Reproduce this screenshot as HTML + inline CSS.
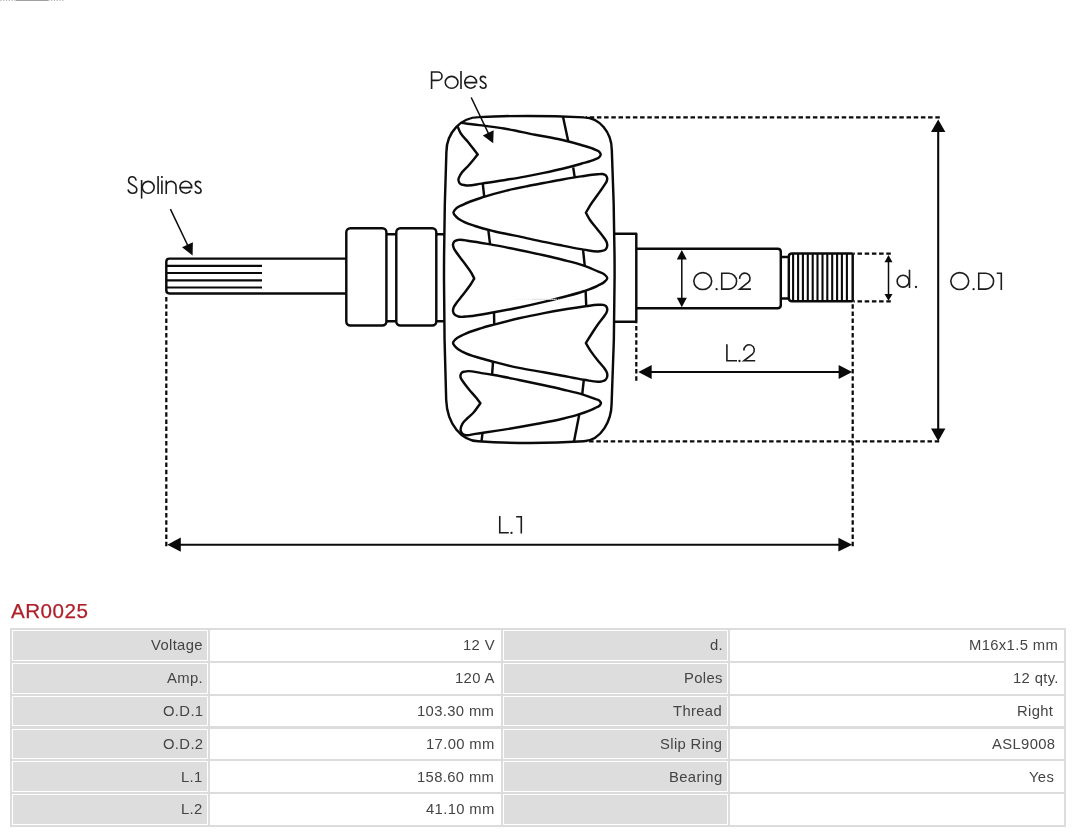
<!DOCTYPE html>
<html><head><meta charset="utf-8"><title>AR0025</title>
<style>
html,body{margin:0;padding:0;background:#fff;}
body{width:1080px;height:832px;position:relative;overflow:hidden;font-family:"Liberation Sans",sans-serif;}
svg{position:absolute;left:0;top:0;}
.title{position:absolute;left:11.1px;top:598.5px;font-size:20.6px;line-height:24px;color:#b01f29;letter-spacing:0.5px;-webkit-text-stroke:0.25px #b01f29;white-space:nowrap;}
.t{display:inline-block;will-change:transform;}
.c{position:absolute;background:#fff;box-sizing:border-box;padding:1px;}
.f{width:100%;height:100%;box-sizing:border-box;text-align:right;font-size:14.8px;line-height:28.833px;color:#444;letter-spacing:0.36px;white-space:nowrap;padding-top:0.2px;}
</style></head>
<body>
<svg width="1080" height="590" viewBox="0 0 1080 590">
<g fill="none" stroke="#0a0a0a" stroke-width="2.45" stroke-linejoin="round" stroke-linecap="butt">
<path d="M479,117.1 Q530,114.6 584,117.4 C599.3,117.6 611.6,132.1 611.8,150 Q617.5,279 611.6,404 C611.4,420 602,440 584,441.3 Q530,444.7 478,441.3 C462,440.5 447.2,425 446.2,400 Q441.7,276 446.4,152 A32.6,34.9 0 0 1 479,117.1 Z"/>
<path d="M460.60,122.90 C467.73,123.73 474.88,124.48 482.00,125.40 C489.34,126.34 496.70,127.29 504.00,128.50 C514.39,130.22 524.66,132.67 535.00,134.70 C544.16,136.50 553.42,137.86 562.50,140.00 C568.79,141.49 575.07,143.11 581.25,145.00 C585.87,146.41 590.67,147.49 595.00,149.60 C596.50,150.33 598.38,150.76 599.40,152.00 C599.97,152.70 600.70,153.67 600.70,154.50 C600.70,155.33 599.97,156.30 599.40,157.00 C598.38,158.24 596.50,158.68 595.00,159.40 C590.69,161.48 585.86,162.39 581.25,163.75 C575.05,165.58 568.78,167.22 562.50,168.75 C556.28,170.27 550.02,171.59 543.75,172.90 C537.51,174.20 531.27,175.46 525.00,176.60 C518.85,177.72 512.67,178.70 506.50,179.70 C498.18,181.05 489.87,182.59 481.50,183.60 C476.02,184.26 470.34,186.30 465.00,185.20 C463.42,184.88 461.42,184.80 460.30,183.80 C459.33,182.93 458.53,181.29 458.40,180.00 C458.23,178.38 459.47,176.57 460.25,175.00 C462.18,171.08 466.13,168.37 469.00,165.00 C471.97,161.51 474.83,157.93 477.75,154.40 C474.50,150.27 471.33,146.07 468.00,142.00 C465.57,139.03 462.50,136.49 460.60,133.20 C459.41,131.14 458.67,128.80 457.70,126.60"/>
<path d="M585.90,212.75 C587.27,215.17 588.48,217.68 590.00,220.00 C592.19,223.34 595.03,226.24 597.50,229.40 C599.60,232.08 601.86,234.67 603.75,237.50 C604.83,239.12 606.30,240.67 606.80,242.50 C607.14,243.76 607.39,245.25 607.10,246.50 C606.84,247.60 606.23,248.87 605.40,249.60 C604.55,250.35 603.15,250.55 602.00,250.90 C596.24,252.64 589.79,250.35 583.75,249.60 C576.61,248.71 569.58,246.97 562.50,245.60 C556.25,244.39 549.99,243.20 543.75,241.90 C535.48,240.18 527.26,238.18 519.00,236.40 C510.68,234.61 502.26,233.22 494.00,231.20 C487.63,229.64 481.21,228.12 475.00,226.00 C470.86,224.59 466.55,223.38 462.75,221.25 C460.50,219.99 458.02,218.78 456.30,216.90 C455.14,215.63 453.37,213.96 453.40,212.50 C453.43,211.09 455.12,209.46 456.30,208.30 C458.00,206.63 460.57,205.89 462.75,204.80 C469.50,201.43 476.82,199.24 484.00,196.90 C491.40,194.49 498.94,192.46 506.50,190.60 C513.61,188.85 520.81,187.44 528.00,186.00 C533.24,184.95 538.50,183.99 543.75,183.00 C550.00,181.82 556.24,180.60 562.50,179.50 C568.74,178.40 574.98,177.31 581.25,176.40 C586.65,175.61 592.06,174.71 597.50,174.30 C599.20,174.17 600.97,173.66 602.60,174.00 C603.70,174.23 605.03,174.56 605.80,175.30 C606.56,176.03 607.09,177.33 607.20,178.40 C607.30,179.40 606.97,180.53 606.60,181.50 C606.23,182.46 605.55,183.31 605.00,184.20 C602.71,187.94 600.02,191.41 597.50,195.00 C595.02,198.54 592.29,201.93 590.00,205.60 C588.55,207.93 587.27,210.37 585.90,212.75 Z"/>
<path d="M474.25,278.50 C472.92,280.67 471.66,282.88 470.25,285.00 C467.95,288.47 465.29,291.69 462.75,295.00 C460.50,297.94 457.91,300.65 455.90,303.75 C455.09,305.00 454.08,306.21 453.60,307.60 C453.21,308.73 452.85,310.05 453.00,311.20 C453.16,312.42 453.84,313.82 454.70,314.70 C455.61,315.63 457.13,316.08 458.40,316.50 C461.68,317.59 465.48,316.43 469.00,316.20 C477.40,315.64 485.69,313.70 494.00,312.25 C502.36,310.80 510.69,309.22 519.00,307.50 C527.36,305.77 535.70,303.89 544.00,301.90 C550.18,300.42 556.36,298.88 562.50,297.25 C569.61,295.36 576.81,293.68 583.75,291.25 C588.40,289.62 593.10,288.00 597.50,285.80 C599.82,284.64 602.45,283.75 604.30,282.00 C605.47,280.89 607.33,279.39 607.30,278.10 C607.27,276.85 605.47,275.41 604.30,274.40 C602.46,272.81 599.78,272.27 597.50,271.25 C592.97,269.23 588.41,267.25 583.75,265.60 C576.84,263.15 569.62,261.56 562.50,259.75 C556.28,258.16 550.01,256.72 543.75,255.30 C535.52,253.43 527.26,251.70 519.00,250.00 C509.44,248.04 499.87,246.08 490.25,244.40 C483.18,243.17 476.12,241.87 469.00,241.00 C465.48,240.57 461.80,239.14 458.40,239.90 C457.15,240.18 455.61,240.39 454.70,241.20 C453.86,241.95 453.15,243.27 453.00,244.40 C452.86,245.42 453.27,246.58 453.60,247.60 C454.17,249.38 455.48,250.90 456.50,252.50 C458.74,256.01 461.55,259.13 464.00,262.50 C466.55,266.00 469.37,269.35 471.50,273.10 C472.50,274.85 473.33,276.70 474.25,278.50 Z"/>
<path d="M585.90,343.10 C587.68,346.03 589.33,349.06 591.25,351.90 C593.90,355.82 597.04,359.40 600.00,363.10 C601.72,365.25 603.80,367.15 605.20,369.50 C605.92,370.71 606.81,371.95 607.10,373.30 C607.36,374.47 607.43,375.86 607.10,377.00 C606.79,378.08 606.14,379.29 605.30,380.00 C604.43,380.74 603.05,380.96 601.90,381.30 C596.16,383.02 589.76,380.50 583.75,379.70 C576.61,378.75 569.59,377.02 562.50,375.70 C556.25,374.54 550.00,373.38 543.75,372.25 C535.51,370.76 527.20,369.60 519.00,367.90 C510.61,366.16 502.29,364.07 494.00,361.90 C489.82,360.81 485.63,359.75 481.50,358.50 C475.16,356.58 468.48,355.15 462.75,351.90 C460.41,350.57 457.82,349.34 456.00,347.40 C454.82,346.15 452.98,344.53 453.00,343.10 C453.02,341.69 454.80,340.09 456.00,338.90 C457.81,337.11 460.45,336.19 462.75,335.00 C468.65,331.96 475.15,330.09 481.50,328.10 C485.62,326.80 489.82,325.73 494.00,324.60 C502.29,322.36 510.63,320.22 519.00,318.30 C527.29,316.39 535.64,314.71 544.00,313.10 C550.15,311.92 556.32,310.79 562.50,309.75 C569.57,308.56 576.65,307.43 583.75,306.50 C588.66,305.86 593.56,304.86 598.50,304.80 C600.06,304.78 601.73,304.48 603.20,304.90 C604.25,305.20 605.52,305.62 606.20,306.40 C606.85,307.14 607.24,308.39 607.30,309.40 C607.37,310.52 606.89,311.75 606.40,312.80 C606.04,313.58 605.48,314.27 605.00,315.00 C602.72,318.48 599.89,321.59 597.50,325.00 C595.78,327.46 594.13,329.98 592.50,332.50 C590.24,335.99 588.10,339.57 585.90,343.10 Z"/>
<path d="M480.40,403.20 C479.10,401.50 477.83,399.77 476.50,398.10 C474.11,395.11 471.41,392.37 469.00,389.40 C466.84,386.74 464.66,384.09 462.75,381.25 C462.08,380.25 461.16,379.32 460.80,378.20 C460.51,377.30 460.33,376.22 460.50,375.30 C460.67,374.38 461.14,373.31 461.80,372.70 C462.49,372.06 463.66,371.90 464.60,371.60 C469.92,369.92 475.89,372.40 481.50,373.10 C485.68,373.62 489.84,374.30 494.00,375.00 C502.38,376.41 510.68,378.29 519.00,380.00 C527.34,381.72 535.68,383.46 544.00,385.30 C550.17,386.66 556.35,388.03 562.50,389.50 C569.61,391.20 576.79,392.68 583.75,394.90 C587.54,396.11 591.30,397.44 595.00,398.90 C596.54,399.51 598.50,399.66 599.60,400.80 C600.19,401.42 600.97,402.33 601.00,403.10 C601.03,403.92 600.20,404.90 599.60,405.60 C598.51,406.88 596.56,407.31 595.00,408.10 C589.82,410.72 584.27,412.60 578.75,414.40 C573.43,416.13 567.95,417.44 562.50,418.75 C554.24,420.74 545.85,422.22 537.50,423.80 C526.37,425.91 515.19,427.81 504.00,429.60 C498.14,430.54 492.27,431.44 486.40,432.30 C482.20,432.92 478.00,433.48 473.80,434.10 C471.37,434.46 468.89,435.53 466.50,435.20 C465.39,435.05 464.11,434.90 463.20,434.30 C462.39,433.77 461.63,432.88 461.20,432.00 C460.75,431.09 460.60,429.92 460.60,428.90 C460.60,427.16 461.54,425.35 462.40,423.80 C463.60,421.63 465.74,420.01 467.50,418.20 C469.52,416.12 471.87,414.35 473.80,412.20 C476.28,409.44 478.20,406.20 480.40,403.20 Z"/>
<path d="M562.9,116.2 L568.3,141.5"/>
<path d="M573.2,167.4 L574.7,177.4"/>
<path d="M482.75,183.4 L484.25,197"/>
<path d="M488.4,230.8 L490.1,244.4"/>
<path d="M583.1,250.2 L584.75,265.6"/>
<path d="M585.6,290.8 L586.25,306"/>
<path d="M494,312.3 L494.25,324.7"/>
<path d="M493,362.1 L492.1,374.7"/>
<path d="M583.75,380.3 L582.25,394.2"/>
<path d="M579.2,414.8 L574,441.6"/>
<path d="M482.5,433.3 L481.5,441.2"/>
<path d="M614.5,233.8 H636.3 V321.8 H614.3"/>
<path d="M636.3,248.8 H777.6 Q780.8,248.8 780.8,252 V305.1 Q780.8,308.3 777.6,308.3 H636.3"/>
<path d="M780.8,257 H788.8 M780.8,298.5 H788.8"/>
<path d="M792,253.5 H851.7 Q852.7,253.5 852.7,254.5 V300.3 Q852.7,301.3 851.7,301.3 H792 Q788.8,301.3 788.8,298.1 V256.7 Q788.8,253.5 792,253.5 Z"/>
<path d="M346.2,258.6 H169.4 Q166.3,258.6 166.3,261.7 V290.3 Q166.3,293.4 169.4,293.4 H346.2"/>
<rect x="346.3" y="228.3" width="40.1" height="97.2" rx="4" ry="4"/>
<rect x="396.3" y="228.3" width="40" height="97.2" rx="4" ry="4"/>
<path d="M386.4,234.3 H396.3 M386.4,321.2 H396.3 M436.3,234.3 H444.6 M436.3,321.2 H444.3"/>
</g>
<g fill="none" stroke="#0a0a0a" stroke-width="2.2">
<path d="M166.3,265.8 H262"/>
<path d="M166.3,273.0 H262"/>
<path d="M166.3,280.3 H262"/>
<path d="M166.3,287.5 H262"/>
</g>
<g fill="none" stroke="#0a0a0a" stroke-width="2.1">
<path d="M793.1,254 V300.8"/>
<path d="M798.1,254 V300.8"/>
<path d="M802.9,254 V300.8"/>
<path d="M807.8,254 V300.8"/>
<path d="M812.7,254 V300.8"/>
<path d="M817.5,254 V300.8"/>
<path d="M822.5,254 V300.8"/>
<path d="M827.3,254 V300.8"/>
<path d="M832.2,254 V300.8"/>
<path d="M837.1,254 V300.8"/>
<path d="M841.9,254 V300.8"/>
<path d="M846.9,254 V300.8"/>
</g>
<g fill="none" stroke="#0a0a0a" stroke-width="2.25" stroke-dasharray="4.5 2.7">
<path d="M939.8,117.4 H586"/>
<path d="M939.2,441.3 H586"/>
<path d="M166.3,546.3 V294.5"/>
<path d="M852.7,546.3 V302"/>
<path d="M636.3,380.8 V322.5"/>
<path d="M890.8,253.5 H853.5 M890.8,301.3 H853.5"/>
</g>
<g fill="#0a0a0a" stroke="#0a0a0a" stroke-width="2.1">
<path d="M938.2,128 V433"/>
<path d="M176,544.7 H843"/>
<path d="M646,372 H843"/>
</g>
<g fill="#0a0a0a" stroke="none">
<polygon points="938.20,119.50 945.40,132.00 931.00,132.00"/>
<polygon points="938.20,441.30 931.00,428.50 945.40,428.50"/>
<polygon points="167.30,544.70 180.80,537.60 180.80,551.80"/>
<polygon points="852.20,544.70 838.40,551.60 838.40,537.80"/>
<polygon points="638.30,372.00 651.70,365.00 651.70,379.00"/>
<polygon points="852.20,372.00 838.60,379.00 838.60,365.00"/>
<polygon points="681.80,250.00 686.80,259.50 676.80,259.50"/>
<polygon points="681.80,307.20 676.80,297.70 686.80,297.70"/>
<polygon points="888.50,255.00 892.50,262.30 884.50,262.30"/>
<polygon points="888.50,300.70 884.50,293.90 892.50,293.90"/>
<polygon points="192.60,255.60 182.03,247.34 192.87,242.19"/>
<polygon points="493.20,143.20 482.82,135.42 493.64,130.24"/>
</g>
<g fill="none" stroke="#0a0a0a" stroke-width="1.5">
<path d="M681.8,256 V301"/>
<path d="M888.5,260 V296"/>
<path d="M170.4,209.1 L188.5,247"/>
<path d="M471.2,97.5 L489,134.6"/>
</g>
<g fill="none" stroke="#1c1c1c" stroke-width="1.6" stroke-linejoin="miter" stroke-linecap="butt">
<ellipse cx="959.75" cy="281.09999999999997" rx="8.95" ry="8.45"/>
<circle cx="973.6" cy="289.2" r="1.15" fill="#1c1c1c" stroke="none"/>
<path d="M978.75,273.29999999999995 V289.09999999999997 H985.7 A7.9,7.9 0 0 0 985.7,273.29999999999995 Z"/>
<path d="M996.7,273.3 H1001.3 V289.9"/>
<ellipse cx="702.75" cy="281.09999999999997" rx="8.95" ry="8.45"/>
<circle cx="716.6" cy="289.2" r="1.15" fill="#1c1c1c" stroke="none"/>
<path d="M721.75,273.29999999999995 V289.09999999999997 H728.7 A7.9,7.9 0 0 0 728.7,273.29999999999995 Z"/>
<path d="M739.65,278.90 A5.2,5.3 0 1 1 748.19,282.48 L739.65,289.15 H750.95"/>
<path d="M726.9,344.3 V360.8 H737"/>
<circle cx="739.5" cy="361" r="1.15" fill="#1c1c1c" stroke="none"/>
<path d="M743.90,350.50 A5.2,5.3 0 1 1 752.44,354.08 L743.90,360.75 H755.20"/>
<path d="M499.75,516 V532.7 H508.8"/>
<circle cx="511.5" cy="532.9" r="1.15" fill="#1c1c1c" stroke="none"/>
<path d="M516.2,516.8 H521.3 V533.5"/>
<circle cx="903.1" cy="281.2" r="5.95"/>
<path d="M909.5,269.7 V288"/>
<circle cx="916" cy="287" r="1.15" fill="#1c1c1c" stroke="none"/>
<path d="M431.6,89 V72 H437.8 A4.2,4.2 0 0 1 437.8,80.4 H431.6"/>
<ellipse cx="451.6" cy="82.3" rx="6.35" ry="5.95"/>
<path d="M461,71 V89"/>
<path d="M464.65,82.65 H476.55 A5.95,5.95 0 1 0 475.59,85.54"/>
<path d="M485.90,78.30 C485.30,76.90 484.20,76.40 483.10,76.40 C481.30,76.40 480.30,77.60 480.30,79.00 C480.30,80.80 481.80,81.50 483.30,82.20 C485.00,83.00 486.10,83.80 486.10,85.50 C486.10,87.20 484.80,88.30 483.10,88.30 C481.50,88.30 480.50,87.40 480.10,86.10"/>
<path d="M136.2,180.6 C135.6,178.3 134.2,176.8 132.2,176.8 C130,176.8 128.6,178.6 128.6,180.7 C128.6,183.1 130.5,184 132.5,185 C135,186.2 136.8,187.3 136.8,189.5 C136.8,191.7 135,193.2 132.6,193.2 C130.2,193.2 128.6,191.8 128,189.5"/>
<path d="M141.6,180 V198.6"/>
<circle cx="148.2" cy="187.3" r="5.95"/>
<path d="M158.1,176 V194"/>
<path d="M161.9,180.6 V194"/>
<circle cx="161.9" cy="177" r="1.1" fill="#1c1c1c" stroke="none"/>
<path d="M166.25,180.6 V194 M166.25,186.3 A4.875,4.9 0 0 1 176,186.3 V194"/>
<path d="M179.80,187.65 H191.70 A5.95,5.95 0 1 0 190.74,190.54"/>
<path d="M200.90,183.30 C200.30,181.90 199.20,181.40 198.10,181.40 C196.30,181.40 195.30,182.60 195.30,184.00 C195.30,185.80 196.80,186.50 198.30,187.20 C200.00,188.00 201.10,188.80 201.10,190.50 C201.10,192.20 199.80,193.30 198.10,193.30 C196.50,193.30 195.50,192.40 195.10,191.10"/>
</g>
<path d="M516,299.3 H580" stroke="#e4e4e4" stroke-width="0.8" stroke-dasharray="1 1" fill="none"/>
<path d="M532,299.3 H556" stroke="#dcdcdc" stroke-width="0.8" fill="none"/>
<path d="M0.3,0.4 H64" stroke="#a8a8a8" stroke-width="1" stroke-dasharray="1.2 1.62" fill="none"/>
<path d="M16,0.4 H48" stroke="#9a9a9a" stroke-width="1" fill="none"/>
</svg>
<div class="title"><span class="t">AR0025</span></div>
<div style="position:absolute;left:10px;top:628px;width:1056px;height:199px;background:#dcdcdc"></div>
<div class="c" style="left:12px;top:630.000px;width:196px;height:30.833px;"><div class="f" style="background:#dddddd;padding-right:4.6000000000000005px"><span class="t">Voltage</span></div></div>
<div class="c" style="left:210px;top:630.000px;width:291px;height:30.833px;"><div class="f" style="background:#fff;padding-right:4.9px"><span class="t">12 V</span></div></div>
<div class="c" style="left:503px;top:630.000px;width:225px;height:30.833px;"><div class="f" style="background:#dddddd;padding-right:4.0px"><span class="t">d.</span></div></div>
<div class="c" style="left:730px;top:630.000px;width:334px;height:30.833px;"><div class="f" style="background:#fff;padding-right:5.1000000000000005px"><span class="t">M16x1.5 mm</span></div></div>
<div class="c" style="left:12px;top:662.833px;width:196px;height:30.833px;"><div class="f" style="background:#dddddd;padding-right:3.9000000000000004px"><span class="t">Amp.</span></div></div>
<div class="c" style="left:210px;top:662.833px;width:291px;height:30.833px;"><div class="f" style="background:#fff;padding-right:5.5px"><span class="t">120 A</span></div></div>
<div class="c" style="left:503px;top:662.833px;width:225px;height:30.833px;"><div class="f" style="background:#dddddd;padding-right:4.6000000000000005px"><span class="t">Poles</span></div></div>
<div class="c" style="left:730px;top:662.833px;width:334px;height:30.833px;"><div class="f" style="background:#fff;padding-right:3.9000000000000004px"><span class="t">12 qty.</span></div></div>
<div class="c" style="left:12px;top:695.667px;width:196px;height:30.833px;"><div class="f" style="background:#dddddd;padding-right:3.9000000000000004px"><span class="t">O.D.1</span></div></div>
<div class="c" style="left:210px;top:695.667px;width:291px;height:30.833px;"><div class="f" style="background:#fff;padding-right:5.4px"><span class="t">103.30 mm</span></div></div>
<div class="c" style="left:503px;top:695.667px;width:225px;height:30.833px;"><div class="f" style="background:#dddddd;padding-right:4.6000000000000005px"><span class="t">Thread</span></div></div>
<div class="c" style="left:730px;top:695.667px;width:334px;height:30.833px;"><div class="f" style="background:#fff;padding-right:9.7px"><span class="t">Right</span></div></div>
<div class="c" style="left:12px;top:728.500px;width:196px;height:30.833px;"><div class="f" style="background:#dddddd;padding-right:3.9000000000000004px"><span class="t">O.D.2</span></div></div>
<div class="c" style="left:210px;top:728.500px;width:291px;height:30.833px;"><div class="f" style="background:#fff;padding-right:5.4px"><span class="t">17.00 mm</span></div></div>
<div class="c" style="left:503px;top:728.500px;width:225px;height:30.833px;"><div class="f" style="background:#dddddd;padding-right:4.2px"><span class="t">Slip Ring</span></div></div>
<div class="c" style="left:730px;top:728.500px;width:334px;height:30.833px;"><div class="f" style="background:#fff;padding-right:8.0px"><span class="t">ASL9008</span></div></div>
<div class="c" style="left:12px;top:761.333px;width:196px;height:30.833px;"><div class="f" style="background:#dddddd;padding-right:4.6000000000000005px"><span class="t">L.1</span></div></div>
<div class="c" style="left:210px;top:761.333px;width:291px;height:30.833px;"><div class="f" style="background:#fff;padding-right:5.4px"><span class="t">158.60 mm</span></div></div>
<div class="c" style="left:503px;top:761.333px;width:225px;height:30.833px;"><div class="f" style="background:#dddddd;padding-right:4.2px"><span class="t">Bearing</span></div></div>
<div class="c" style="left:730px;top:761.333px;width:334px;height:30.833px;"><div class="f" style="background:#fff;padding-right:9.0px"><span class="t">Yes</span></div></div>
<div class="c" style="left:12px;top:794.167px;width:196px;height:30.833px;"><div class="f" style="background:#dddddd;padding-right:4.6000000000000005px"><span class="t">L.2</span></div></div>
<div class="c" style="left:210px;top:794.167px;width:291px;height:30.833px;"><div class="f" style="background:#fff;padding-right:5.4px"><span class="t">41.10 mm</span></div></div>
<div class="c" style="left:503px;top:794.167px;width:225px;height:30.833px;"><div class="f" style="background:#dddddd;padding-right:5.2px"><span class="t"></span></div></div>
<div class="c" style="left:730px;top:794.167px;width:334px;height:30.833px;"><div class="f" style="background:#fff;padding-right:5.7px"><span class="t"></span></div></div>
</body></html>
